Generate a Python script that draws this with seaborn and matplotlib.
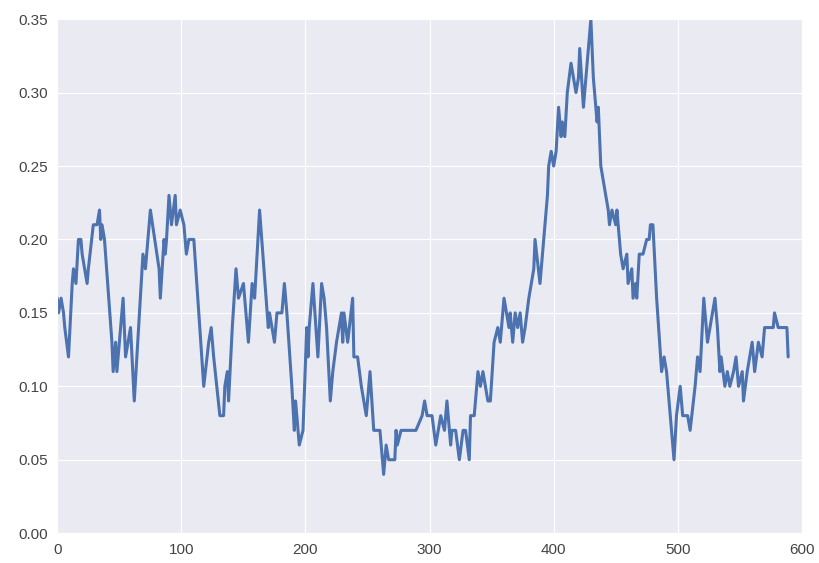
import pandas as pd
import seaborn as sns
import matplotlib.pyplot as plt
from matplotlib.ticker import FormatStrFormatter

# Werte (Index, Wert)
idx = [0, 1, 3, 5, 6, 9, 12, 13, 15, 17, 19, 20, 24, 25, 29, 32, 34, 35, 36, 38,
       44, 45, 47, 48, 53, 55, 59, 62, 69, 71, 72, 75, 82, 83, 86, 87, 88, 90, 92, 95,
       96, 99, 102, 103, 104, 106, 110, 118, 122, 124, 126, 131, 134, 135, 137, 138, 141, 144, 146, 150,
       151, 154, 157, 159, 163, 170, 171, 173, 175, 177, 181, 183, 185, 189, 191, 192, 195, 198, 201, 202,
       203, 206, 210, 213, 215, 217, 220, 222, 225, 229, 230, 231, 234, 238, 239, 242, 245, 249, 252, 255,
       260, 263, 265, 267, 272, 273, 274, 277, 289, 294, 296, 298, 302, 305, 309, 312, 314, 317, 318, 321,
       324, 327, 329, 332, 333, 336, 339, 341, 343, 345, 347, 349, 352, 355, 357, 360, 364, 365, 367, 369,
       371, 373, 375, 377, 380, 382, 384, 385, 389, 391, 395, 396, 398, 400, 402, 404, 406, 407, 409, 411,
       414, 416, 418, 420, 421, 424, 426, 430, 432, 435, 436, 438, 440, 444, 445, 447, 450, 451, 454, 456,
       459, 460, 463, 464, 466, 467, 469, 472, 475, 477, 478, 480, 483, 487, 489, 491, 497, 499, 502, 504,
       508, 510, 514, 516, 518, 521, 524, 526, 530, 532, 534, 535, 538, 540, 542, 545, 547, 549, 552, 553,
       556, 558, 560, 562, 565, 568, 570, 577, 578, 581, 588, 589]
vals = [.16, .15, .16, .15, .14, .12, .17, .18, .17, .20, .20, .19, .17, .18, .21, .21, .22, .20, .21, .20,
        .13, .11, .13, .11, .16, .12, .14, .09, .19, .18, .19, .22, .18, .16, .20, .19, .20, .23, .21, .23,
        .21, .22, .21, .20, .19, .20, .20, .10, .13, .14, .12, .08, .08, .10, .11, .09, .14, .18, .16, .17,
        .16, .13, .17, .16, .22, .14, .15, .14, .13, .15, .15, .17, .15, .10, .07, .09, .06, .07, .14, .12,
        .14, .17, .12, .17, .16, .14, .09, .11, .13, .15, .13, .15, .13, .16, .12, .12, .10, .08, .11, .07,
        .07, .04, .06, .05, .05, .07, .06, .07, .07, .08, .09, .08, .08, .06, .08, .07, .09, .06, .07, .07,
        .05, .07, .07, .05, .08, .08, .11, .10, .11, .10, .09, .09, .13, .14, .13, .16, .14, .15, .13, .15,
        .14, .15, .13, .14, .16, .17, .18, .20, .17, .19, .23, .25, .26, .25, .26, .29, .27, .28, .27, .30,
        .32, .31, .30, .31, .33, .29, .31, .35, .31, .28, .29, .25, .24, .22, .21, .22, .21, .22, .19, .18,
        .19, .17, .18, .16, .17, .16, .19, .19, .20, .20, .21, .21, .16, .11, .12, .11, .05, .08, .10, .08,
        .08, .07, .10, .12, .11, .16, .13, .14, .16, .14, .11, .12, .10, .11, .10, .11, .12, .10, .11, .09,
        .11, .12, .13, .11, .13, .12, .14, .14, .15, .14, .14, .12]

df = pd.DataFrame({'idx': idx, 'wert': vals})

sns.set_style('darkgrid')
plt.rcParams['font.family'] = ['Liberation Sans', 'DejaVu Sans']

fig, ax = plt.subplots(figsize=(8.19, 5.63), dpi=100)
fig.subplots_adjust(left=0.07, right=0.979, top=0.966, bottom=0.053)

sns.lineplot(data=df, x='idx', y='wert', ax=ax, color='#4C72B0', linewidth=2.2)

ax.set_xlim(0, 600)
ax.set_ylim(0, 0.35)
ax.set_yticks([0, 0.05, 0.10, 0.15, 0.20, 0.25, 0.30, 0.35])
ax.yaxis.set_major_formatter(FormatStrFormatter('%.2f'))
ax.set_xlabel('')
ax.set_ylabel('')
ax.tick_params(labelsize=11, colors='#444444')

plt.savefig('out.png', dpi=100)
